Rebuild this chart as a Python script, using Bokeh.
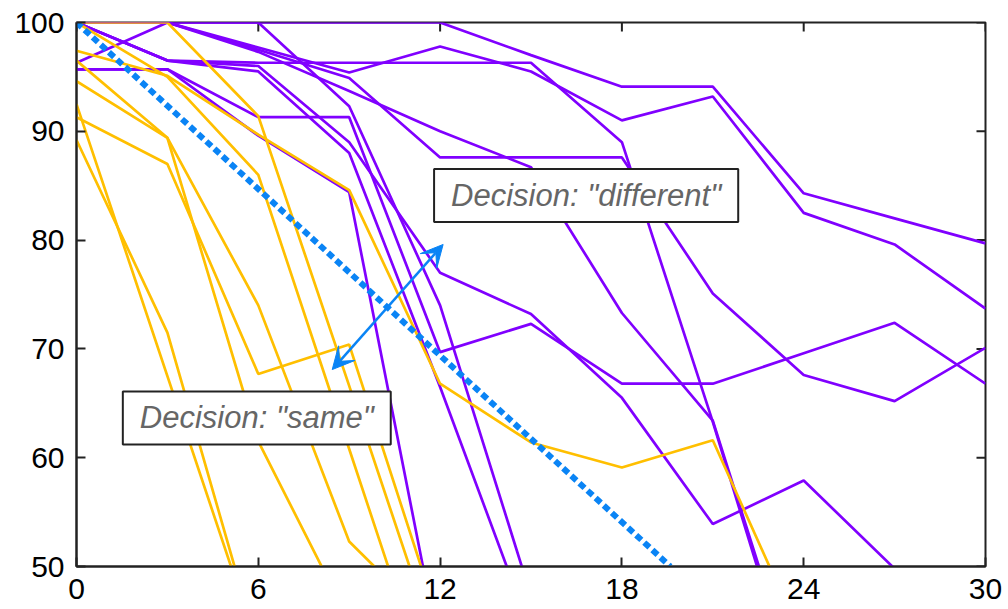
import math
from bokeh.plotting import figure
from bokeh.models import (LinearAxis, Range1d, FixedTicker, Label, Arrow, VeeHead)
from bokeh.embed import file_html
from bokeh.resources import INLINE

# x positions of the measurements
steps = [0, 3, 6, 9, 12, 15, 18, 21, 24, 27, 30]

# "different" trials (purple)
purple_series = [
    [100, 100, 100, 100, 100, 97.0, 94.1, 94.1, 84.3, 82.0, 79.7],
    [96.3, 100, 97.7, 95.4, 97.8, 95.5, 91.0, 93.2, 82.5, 79.6, 73.7],
    [100, 96.5, 96.3, 96.3, 96.3, 96.3, 89.0, 63.3, 36],
    [100, 100, 97.5, 94.9, 87.6, 87.6, 87.6, 75.1, 67.6, 65.2, 70.1],
    [100, 100, 97.3, 93.7, 90.0, 86.7, 73.3, 63.4, 37],
    [100, 100, 100, 92.3, 74.0, 47.3],
    [100, 96.5, 96.0, 89.0, 77.0, 73.2, 65.5, 53.9, 57.9, 49.8],
    [95.7, 95.7, 91.3, 91.3, 69.7, 72.3, 66.8, 66.8, 69.6, 72.4, 66.8],
    [95.7, 95.7, 89.6, 84.4, 42],
    [100, 96.5, 95.5, 88.0, 66.5, 44],
]

# "same" trials (orange)
orange_series = [
    [100, 100, 91.4, 66.6, 41.6],
    [97.4, 95.1, 89.7, 84.6, 66.8, 61.4, 59.1, 61.6, 43],
    [100, 95.0, 86.0, 60.8, 35.6],
    [96.5, 89.4, 74.0, 52.3, 44],
    [94.6, 89.4, 61.5, 45],
    [91.3, 87.0, 67.7, 70.4, 44.6],
    [92.5, 67.5, 42.5],
    [89.2, 71.5, 42.4],
]

# decision boundary
boundary_x = [0, 19.6]
boundary_y = [100, 50]

x_ticks = [0, 6, 12, 18, 24, 30]
y_ticks = [50, 60, 70, 80, 90, 100]

label_different = 'Decision: "different"'
label_same = 'Decision: "same"'

PURPLE = "#8000ff"
ORANGE = "#ffbf00"
BLUE = "#0a84f5"
DARK = "#222222"
FONT = "Liberation Sans"

X0, X1, Y0, Y1 = 0, 30, 50, 100

p = figure(width=1008, height=609, x_range=Range1d(X0, X1), y_range=Range1d(Y0, Y1),
           output_backend="svg", toolbar_location=None,
           x_axis_location=None, y_axis_location=None,
           min_border_left=76, min_border_right=23, min_border_top=22, min_border_bottom=43)
p.grid.visible = False
p.outline_line_color = DARK
p.outline_line_width = 2
p.background_fill_color = "white"
p.border_fill_color = "white"


def style_axis(ax, standoff):
    ax.axis_line_color = DARK
    ax.axis_line_width = 2
    ax.major_tick_in = 9
    ax.major_tick_out = 0
    ax.major_tick_line_color = DARK
    ax.major_tick_line_width = 2
    ax.minor_tick_line_color = None
    ax.major_label_text_font = FONT
    ax.major_label_text_font_size = "30px"
    ax.major_label_text_color = "black"
    ax.major_label_standoff = standoff


xb = LinearAxis(ticker=FixedTicker(ticks=x_ticks)); style_axis(xb, 12)
yl = LinearAxis(ticker=FixedTicker(ticks=y_ticks)); style_axis(yl, 12)
p.add_layout(xb, "below")
p.add_layout(yl, "left")

# inward ticks on the top and right frame edges (half of each dash is clipped by the frame)
p.scatter(x_ticks, [Y1] * len(x_ticks), marker="dash", size=18, angle=math.pi / 2,
          line_color=DARK, line_width=2)
p.scatter([X1] * len(y_ticks), y_ticks, marker="dash", size=18, angle=0,
          line_color=DARK, line_width=2)

for ys in purple_series:
    p.line(steps[:len(ys)], ys, line_color=PURPLE, line_width=2.7)
for ys in orange_series:
    p.line(steps[:len(ys)], ys, line_color=ORANGE, line_width=2.7)

p.line(boundary_x, boundary_y, line_color=BLUE, line_width=6, line_dash="7 4")

p.add_layout(Arrow(x_start=8.44, y_start=68.1, x_end=12.1, y_end=79.6,
                   line_color=BLUE, line_width=2.5,
                   start=VeeHead(size=22, fill_color=BLUE, line_color=BLUE),
                   end=VeeHead(size=22, fill_color=BLUE, line_color=BLUE)))

for txt, cx, cy in [(label_different, 16.82, 84.1), (label_same, 5.95, 63.66)]:
    p.add_layout(Label(x=cx, y=cy, text=txt, text_font=FONT, text_font_style="italic",
                       text_font_size="31px", text_color="#666666",
                       text_align="center", text_baseline="middle",
                       background_fill_color="white", background_fill_alpha=1.0,
                       border_line_color=DARK, border_line_width=2,
                       padding=(17, 9)))

open("out.html", "w").write(file_html(p, INLINE))
